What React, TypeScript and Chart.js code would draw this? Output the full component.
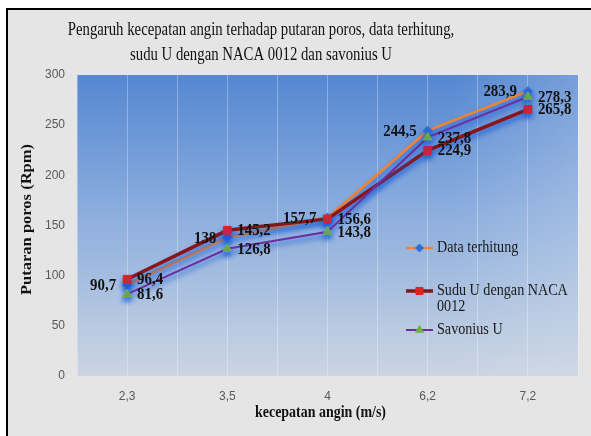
import { useEffect, useRef } from 'react';
import { Chart, registerables } from 'chart.js';

Chart.register(...registerables);

const categories = ['2,3', '3,5', '4', '6,2', '7,2'];
const dataTerhitung = [90.7, 138, 157.7, 244.5, 283.9];
const suduUNaca = [96.4, 145.2, 156.6, 224.9, 265.8];
const savoniusU = [81.6, 126.8, 143.8, 237.8, 278.3];
const seriesNames = ['Data terhitung', 'Sudu U dengan NACA 0012', 'Savonius U'];
const legendLines = [['Data terhitung'], ['Sudu U dengan NACA', '0012'], ['Savonius U']];
const labelSides = ['left', 'right', 'right'];
const titleLines = [
  'Pengaruh kecepatan angin terhadap putaran poros, data terhitung,',
  'sudu U dengan NACA 0012 dan savonius U',
];
const xTitle = 'kecepatan angin (m/s)';
const yTitle = 'Putaran poros (Rpm)';
const yMin = 0;
const yMax = 300;
const yStep = 50;

const SERIF = '"Liberation Serif", "Times New Roman", serif';
const SANS = '"Liberation Sans", Arial, sans-serif';

function drawText(
  ctx: CanvasRenderingContext2D,
  text: string,
  x: number,
  y: number,
  font: string,
  sx: number,
  align: CanvasTextAlign,
  baseline: CanvasTextBaseline,
  color: string,
  rotate = 0
) {
  ctx.save();
  ctx.font = font;
  ctx.fillStyle = color;
  ctx.textAlign = align;
  ctx.textBaseline = baseline;
  ctx.translate(x, y);
  ctx.scale(sx, 1);
  if (rotate) ctx.rotate(rotate);
  ctx.fillText(text, 0, 0);
  ctx.restore();
}

function drawMarker(ctx: CanvasRenderingContext2D, style: string, r: number, x: number, y: number, color: string) {
  ctx.save();
  ctx.fillStyle = color;
  ctx.strokeStyle = color;
  ctx.lineWidth = 1;
  ctx.beginPath();
  if (style === 'rect') {
    const s = r * Math.SQRT1_2;
    ctx.rect(x - s, y - s, 2 * s, 2 * s);
  } else if (style === 'rectRot') {
    ctx.moveTo(x - r, y);
    ctx.lineTo(x, y - r);
    ctx.lineTo(x + r, y);
    ctx.lineTo(x, y + r);
    ctx.closePath();
  } else {
    let a = 0;
    ctx.moveTo(x + Math.sin(a) * r, y - Math.cos(a) * r);
    a += (2 * Math.PI) / 3;
    ctx.lineTo(x + Math.sin(a) * r, y - Math.cos(a) * r);
    a += (2 * Math.PI) / 3;
    ctx.lineTo(x + Math.sin(a) * r, y - Math.cos(a) * r);
    ctx.closePath();
  }
  ctx.fill();
  ctx.stroke();
  ctx.restore();
}

const fmt = (v: number) => String(v).replace('.', ',');

const backgroundPlugin = {
  id: 'bgFrame',
  beforeDraw(chart: any) {
    const ctx = chart.ctx as CanvasRenderingContext2D;
    const { left, top, right, bottom } = chart.chartArea;
    ctx.save();
    ctx.fillStyle = '#ffffff';
    ctx.fillRect(0, 0, chart.width, chart.height);
    ctx.fillStyle = '#e5e5e5';
    ctx.fillRect(6, 8, chart.width - 6, chart.height - 8);
    ctx.fillStyle = '#000000';
    ctx.fillRect(6, 8, 2, chart.height - 8);
    ctx.fillRect(6, 8, chart.width - 6, 2);
    const g = ctx.createLinearGradient(0, top, 0, bottom);
    g.addColorStop(0, '#5587d2');
    g.addColorStop(0.45, '#8badde');
    g.addColorStop(1, '#cbd5e2');
    ctx.fillStyle = g;
    ctx.fillRect(left, top, right - left, bottom - top);
    const h = ctx.createLinearGradient(left, 0, right, 0);
    h.addColorStop(0, 'rgba(220,228,238,0)');
    h.addColorStop(0.75, 'rgba(220,228,238,0)');
    h.addColorStop(1, 'rgba(220,228,238,0.25)');
    ctx.fillStyle = h;
    ctx.fillRect(left, top, right - left, bottom - top);
    ctx.restore();
  },
};

const shadowAndLabels = {
  id: 'shadowLabels',
  beforeDatasetsDraw(chart: any) {
    const ctx = chart.ctx as CanvasRenderingContext2D;
    ctx.save();
    ctx.shadowColor = 'rgba(20, 90, 215, 0.85)';
    ctx.shadowBlur = 5;
    ctx.shadowOffsetX = 0;
    ctx.shadowOffsetY = 4;
  },
  afterDatasetsDraw(chart: any) {
    const ctx = chart.ctx as CanvasRenderingContext2D;
    ctx.restore();
    chart.data.datasets.forEach((ds: any, di: number) => {
      const meta = chart.getDatasetMeta(di);
      meta.data.forEach((pt: any, i: number) => {
        const v = ds.data[i].y;
        const side = labelSides[di];
        const x = side === 'left' ? pt.x - 11 : pt.x + 10;
        drawText(
          ctx,
          fmt(v),
          x,
          pt.y + 1,
          `bold 16px ${SERIF}`,
          0.93,
          side === 'left' ? 'right' : 'left',
          'middle',
          '#111111'
        );
      });
    });
  },
  afterDraw(chart: any) {
    const ctx = chart.ctx as CanvasRenderingContext2D;
    const { left, right, top, bottom } = chart.chartArea;
    drawText(ctx, titleLines[0], 261, 35, `18px ${SERIF}`, 0.82, 'center', 'alphabetic', '#111111');
    drawText(ctx, titleLines[1], 261, 60, `18px ${SERIF}`, 0.82, 'center', 'alphabetic', '#111111');
    drawText(ctx, xTitle, (left + right) / 2 - 7, 417, `bold 17px ${SERIF}`, 0.82, 'center', 'alphabetic', '#111111');
    drawText(ctx, yTitle, 28, (top + bottom) / 2 - 6, `bold 16.5px ${SERIF}`, 0.82, 'center', 'middle', '#111111', -Math.PI / 2);
    const rowY = [248, 291, 330];
    chart.data.datasets.forEach((ds: any, di: number) => {
      const y = rowY[di];
      ctx.save();
      ctx.strokeStyle = ds.borderColor;
      ctx.lineWidth = ds.borderWidth;
      ctx.beginPath();
      ctx.moveTo(406, y);
      ctx.lineTo(433, y);
      ctx.stroke();
      ctx.restore();
      drawMarker(ctx, ds.pointStyle, ds.pointRadius - 0.5, 419.5, y, ds.pointBackgroundColor);
      legendLines[di].forEach((line, li) => {
        drawText(ctx, line, 437, y + li * 16, `16px ${SERIF}`, 0.884, 'left', 'middle', '#1a1a1a');
      });
    });
  },
};

export default function App() {
  const ref = useRef<HTMLCanvasElement>(null);
  useEffect(() => {
    document.body.style.margin = '0';
    const canvas = ref.current!;
    const toPts = (arr: number[]) => arr.map((v, i) => ({ x: i, y: v }));
    const chart = new Chart(canvas, {
      type: 'line',
      data: {
        datasets: [
          {
            label: seriesNames[0],
            data: toPts(dataTerhitung),
            borderColor: '#f2832f',
            borderWidth: 2.5,
            pointStyle: 'rectRot',
            pointRadius: 4.5,
            pointBackgroundColor: '#2e6fd4',
            pointBorderColor: '#2e6fd4',
            pointBorderWidth: 1,
            order: 2,
          },
          {
            label: seriesNames[1],
            data: toPts(suduUNaca),
            borderColor: '#8a1518',
            borderWidth: 3.5,
            pointStyle: 'rect',
            pointRadius: 5.5,
            pointBackgroundColor: '#e3211e',
            pointBorderColor: '#e3211e',
            pointBorderWidth: 1,
            order: 1,
          },
          {
            label: seriesNames[2],
            data: toPts(savoniusU),
            borderColor: '#6b2fa3',
            borderWidth: 2,
            pointStyle: 'triangle',
            pointRadius: 5,
            pointBackgroundColor: '#72b043',
            pointBorderColor: '#72b043',
            pointBorderWidth: 1,
            order: 0,
          },
        ] as any,
      },
      options: {
        responsive: false,
        animation: false,
        events: [],
        layout: { padding: { top: 75, right: 11, bottom: 20, left: 0 } },
        plugins: {
          legend: { display: false },
          title: { display: false },
          tooltip: { enabled: false },
        },
        scales: {
          x: {
            type: 'linear',
            min: -0.5,
            max: 4.5,
            afterBuildTicks: (s: any) => {
              s.ticks = Array.from({ length: categories.length * 2 + 1 }, (_, i) => ({ value: -0.5 + i * 0.5 }));
            },
            afterFit: (s: any) => {
              s.height = 40;
            },
            ticks: {
              autoSkip: false,
              maxRotation: 0,
              minRotation: 0,
              padding: 13,
              color: '#595959',
              font: { family: SANS, size: 12 },
              callback: (v: any) => (Number.isInteger(v) ? categories[v] : ''),
            },
            grid: { color: 'rgba(255,255,255,0.3)', drawTicks: false, lineWidth: 1 },
            border: { display: false },
          },
          y: {
            min: yMin,
            max: yMax,
            afterFit: (s: any) => {
              s.width = 77;
            },
            ticks: {
              stepSize: yStep,
              padding: 12,
              color: '#595959',
              font: { family: SANS, size: 12 },
            },
            grid: { display: false, drawTicks: false },
            border: { display: false },
          },
        },
      } as any,
      plugins: [backgroundPlugin, shadowAndLabels],
    });
    return () => chart.destroy();
  }, []);
  return <canvas ref={ref} width={591} height={436} style={{ display: 'block', width: 591, height: 436 }} />;
}
